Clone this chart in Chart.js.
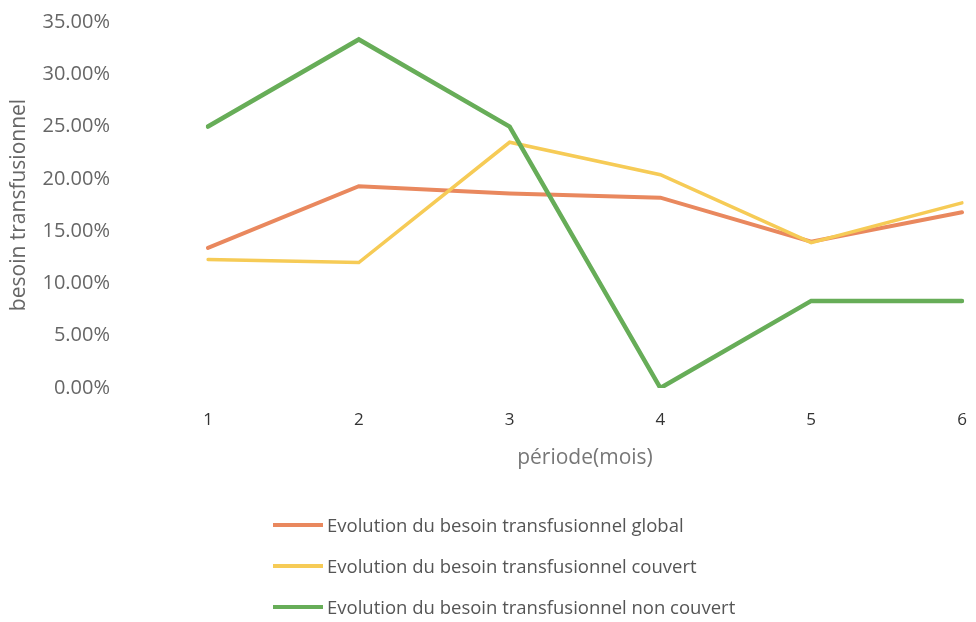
<!DOCTYPE html>
<html lang="fr">
<head>
  <meta charset="UTF-8">
  <title>Evolution du besoin transfusionnel</title>
  <script src="https://cdn.jsdelivr.net/npm/chart.js@4.4.0/dist/chart.umd.min.js"></script>
  <style>
    body {
      margin: 0;
      background: #ffffff;
      font-family: 'Open Sans', sans-serif;
    }
    .chart-box {
      position: relative;
      width: 976px;
      height: 622px;
    }
    .legend {
      position: absolute;
      left: 273px;
      top: 504px;
    }
    .legend-row {
      display: flex;
      align-items: center;
      height: 41px;
      font-size: 18.5px;
      color: #555555;
    }
    .legend-line {
      width: 50px;
      height: 4px;
      margin-right: 4px;
    }
  </style>
</head>
<body>
  <div class="chart-box">
    <canvas id="besoinChart"></canvas>
    <div class="legend" id="legend"></div>
  </div>

  <script>
    // données
    const periodes = ['1', '2', '3', '4', '5', '6'];
    const besoinGlobal = [13.4, 19.3, 18.6, 18.2, 14.0, 16.8];
    const besoinCouvert = [12.3, 12.0, 23.5, 20.4, 13.9, 17.7];
    const besoinNonCouvert = [25.0, 33.33, 25.0, 0.0, 8.33, 8.33];
    const yTicks = [0, 5, 10, 15, 20, 25, 30, 35];

    const seriesNames = [
      'Evolution du besoin transfusionnel global',
      'Evolution du besoin transfusionnel couvert',
      'Evolution du besoin transfusionnel non couvert'
    ];
    const seriesColors = ['#E9885E', '#F6CB56', '#67AD58'];
    const seriesWidths = [4, 3.5, 4.5];
    const seriesData = [besoinGlobal, besoinCouvert, besoinNonCouvert];

    const ctx = document.getElementById('besoinChart').getContext('2d');
    const chart = new Chart(ctx, {
      type: 'line',
      data: {
        labels: periodes,
        datasets: seriesData.map((d, i) => ({
          label: seriesNames[i],
          data: d,
          borderColor: seriesColors[i],
          backgroundColor: seriesColors[i],
          borderWidth: seriesWidths[i],
          pointRadius: 0,
          tension: 0,
          borderCapStyle: 'round',
          borderJoinStyle: 'miter',
          order: 3 - i
        }))
      },
      options: {
        responsive: true,
        maintainAspectRatio: false,
        animation: false,
        layout: {
          padding: { left: 0, right: 14, top: 22, bottom: 134 }
        },
        scales: {
          x: {
            type: 'category',
            offset: false,
            // traits masqués, la longueur sert seulement à décaler les étiquettes
            grid: { display: false, drawTicks: true, tickLength: 18 },
            border: { display: false },
            ticks: {
              padding: 4,
              color: '#333333',
              font: { family: 'Open Sans', size: 17 }
            },
            title: {
              display: true,
              text: 'période(mois)',
              color: '#777777',
              font: { family: 'Open Sans', size: 21 },
              padding: { top: 0, bottom: 17 }
            },
            afterFit: (scale) => { scale.height = 100; }
          },
          y: {
            min: 0,
            max: 35,
            grid: { display: false, drawTicks: true, tickLength: 90 },
            border: { display: false },
            afterBuildTicks: (scale) => {
              scale.ticks = yTicks.map(v => ({ value: v }));
            },
            ticks: {
              padding: 8,
              color: '#666666',
              font: { family: 'Open Sans', size: 20 },
              callback: (v) => v.toFixed(2) + '%'
            },
            title: {
              display: true,
              text: 'besoin transfusionnel',
              color: '#666666',
              font: { family: 'Open Sans', size: 21 },
              padding: { top: 6, bottom: 0 }
            },
            afterFit: (scale) => { scale.width = 208; }
          }
        },
        plugins: {
          legend: { display: false },
          tooltip: { enabled: false }
        }
      }
    });

    // légende verticale
    const legendEl = document.getElementById('legend');
    seriesNames.forEach((name, i) => {
      const row = document.createElement('div');
      row.className = 'legend-row';
      const line = document.createElement('span');
      line.className = 'legend-line';
      line.style.background = seriesColors[i];
      const txt = document.createElement('span');
      txt.textContent = name;
      row.appendChild(line);
      row.appendChild(txt);
      legendEl.appendChild(row);
    });
  </script>
</body>
</html>
